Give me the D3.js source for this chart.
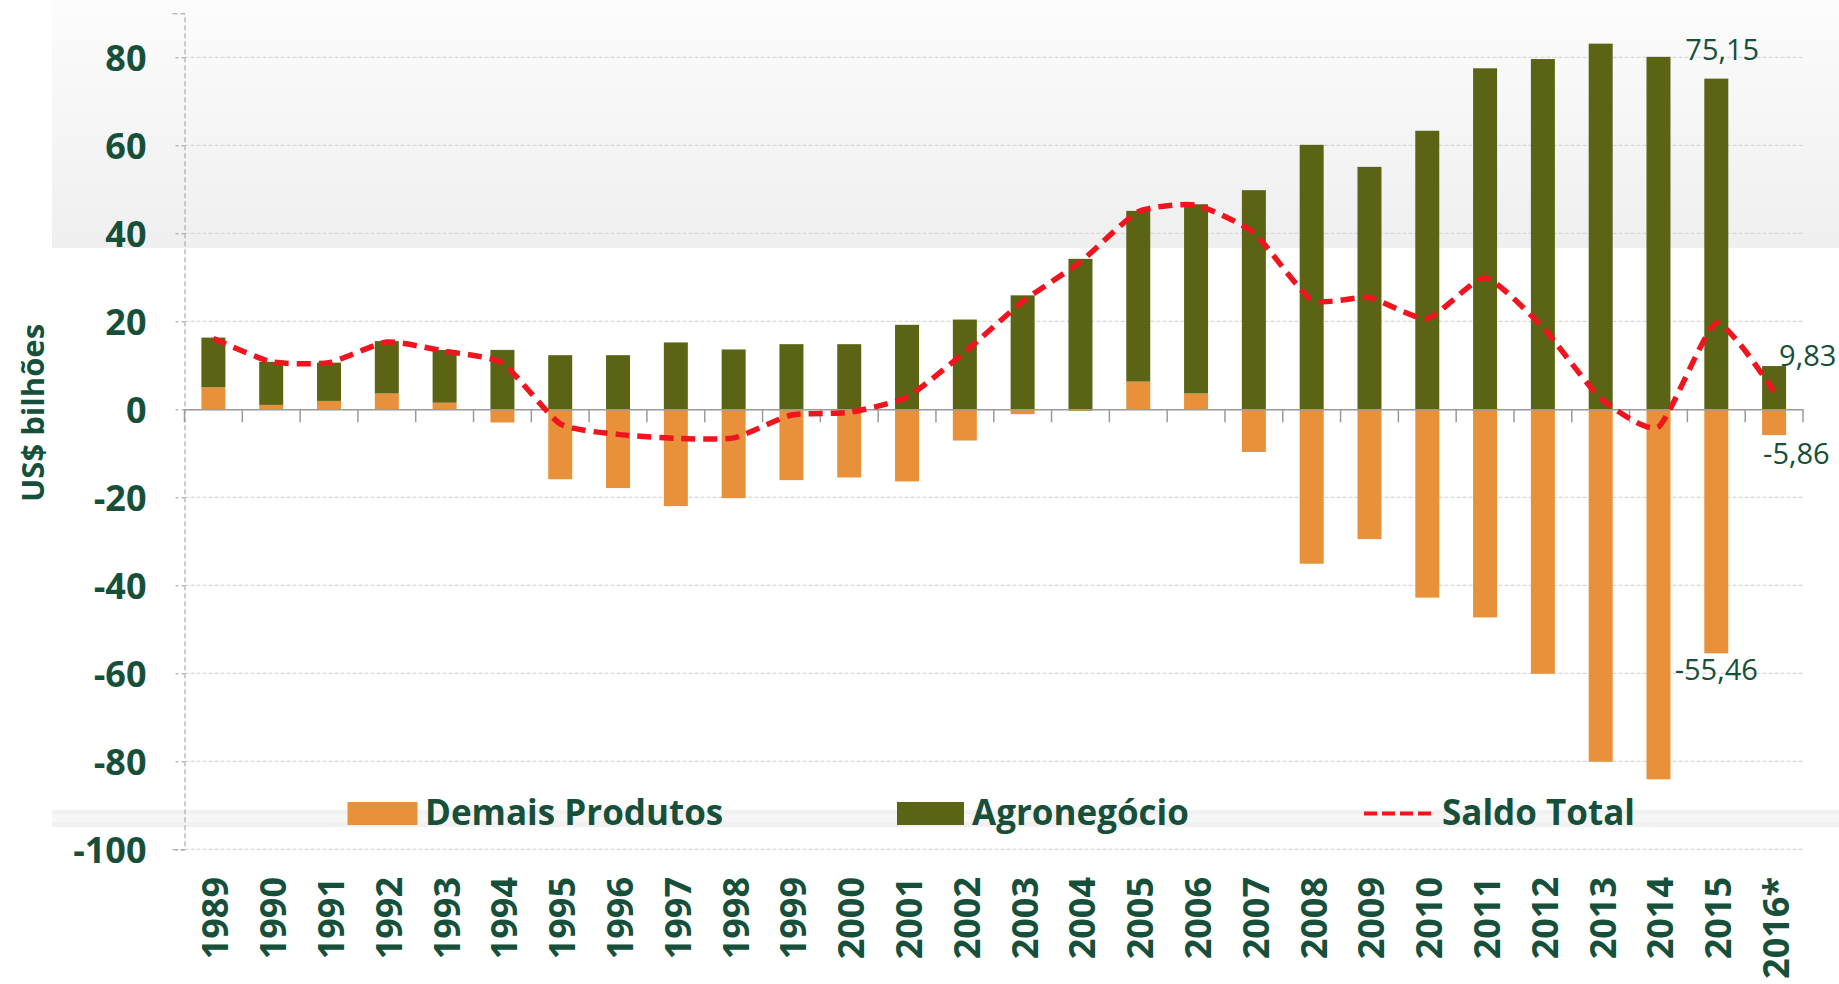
<!DOCTYPE html>
<html>
<head>
<meta charset="utf-8">
<script src="https://cdn.jsdelivr.net/npm/d3@7"></script>
<style>
  html, body { margin: 0; padding: 0; background: #ffffff; }
  svg { display: block; }
  text { font-family: "Open Sans", "DejaVu Sans", sans-serif; }
</style>
</head>
<body>
<svg id="chart" width="1839" height="984"></svg>
<script>
// ---- data (US$ bilhões) ----
const years = ["1989","1990","1991","1992","1993","1994","1995","1996","1997","1998","1999","2000","2001","2002","2003","2004","2005","2006","2007","2008","2009","2010","2011","2012","2013","2014","2015","2016*"];
const agronegocio = [11.3, 9.8, 8.7, 11.9, 12.0, 13.5, 12.3, 12.3, 15.2, 13.6, 14.8, 14.8, 19.2, 20.4, 25.9, 34.2, 38.8, 43.0, 49.8, 60.1, 55.1, 63.3, 77.5, 79.6, 83.1, 80.1, 75.15, 9.83];
const demaisProdutos = [5.0, 1.0, 1.9, 3.6, 1.5, -3.0, -15.9, -17.9, -22.0, -20.2, -16.1, -15.5, -16.4, -7.1, -1.1, -0.4, 6.3, 3.6, -9.7, -35.1, -29.5, -42.8, -47.3, -60.1, -80.1, -84.1, -55.46, -5.86];
const saldoTotal = [16.1, 10.8, 10.6, 15.3, 13.2, 10.5, -3.3, -5.7, -6.6, -6.5, -1.3, -0.7, 2.8, 13.0, 24.5, 33.5, 44.9, 46.4, 40.1, 24.9, 25.4, 20.6, 29.9, 18.6, 2.5, -4.0, 19.6, 4.0];
const yTicks = [-100, -80, -60, -40, -20, 0, 20, 40, 60, 80];
const yTickLabels = ["-100", "-80", "-60", "-40", "-20", "0", "20", "40", "60", "80"];
const seriesNames = ["Demais Produtos", "Agronegócio", "Saldo Total"];
const annotations = [
  { year: "2015", value: 75.15, text: "75,15", dx: 6, dy: -19, anchor: "middle" },
  { year: "2015", value: -55.46, text: "-55,46", dx: 0, dy: 27, anchor: "middle" },
  { year: "2016*", value: 9.83, text: "9,83", dx: 5, dy: 0, anchor: "start" },
  { year: "2016*", value: -5.86, text: "-5,86", dx: -11, dy: 29, anchor: "start" }
];

// ---- styles ----
const C_GREEN = "#5a6414";
const C_ORANGE = "#e8913a";
const C_RED = "#f0141e";
const C_TEXT = "#16503a";
const C_GRID = "#d8d8d8";

const svg = d3.select("#chart");
const W = 1839, H = 984;

// background decorations
const defs = svg.append("defs");
const grad = defs.append("linearGradient").attr("id", "topband").attr("x1", 0).attr("y1", 0).attr("x2", 0).attr("y2", 1);
grad.append("stop").attr("offset", "0%").attr("stop-color", "#fcfcfc");
grad.append("stop").attr("offset", "100%").attr("stop-color", "#efefef");
svg.append("rect").attr("x", 52).attr("y", 0).attr("width", W - 52).attr("height", 248).attr("fill", "url(#topband)");
svg.append("rect").attr("x", 52).attr("y", 810).attr("width", W - 52).attr("height", 17).attr("fill", "#f1f1f1");
svg.append("rect").attr("x", 52).attr("y", 814).attr("width", W - 52).attr("height", 8).attr("fill", "#f6f6f6");

// scales
const x = d3.scaleBand().domain(years).range([184.5, 1803]).paddingInner(0.585).paddingOuter(0.2925);
const xStep = d3.scaleBand().domain(years).range([184.5, 1803]).padding(0);
const y = d3.scaleLinear().domain([-100, 90]).range([849.3, 13.3]);

// gridlines
svg.append("g").selectAll("line").data(yTicks.filter(d => d !== 0)).join("line")
  .attr("x1", 184.5).attr("x2", 1803)
  .attr("y1", d => y(d)).attr("y2", d => y(d))
  .attr("stroke", C_GRID).attr("stroke-width", 1.2).attr("stroke-dasharray", "4,2");

// y axis
const yAxis = d3.axisLeft(y).tickValues(yTicks).tickSize(12).tickPadding(26)
  .tickFormat((d, i) => yTickLabels[i]);
const gy = svg.append("g").attr("transform", "translate(184.5,0)").call(yAxis);
gy.select(".domain").attr("stroke", "#9a9a9a").attr("stroke-width", 1).attr("stroke-dasharray", "5,3");
gy.selectAll(".tick line").attr("stroke", "#9a9a9a").attr("stroke-dasharray", "3,3");
gy.selectAll(".tick text").attr("fill", C_TEXT).attr("font-size", 36).attr("font-weight", 700)
  .attr("font-family", "'Open Sans', sans-serif").attr("dy", "0.36em");

// bars
const gBars = svg.append("g");
years.forEach((yr, i) => {
  const d = demaisProdutos[i], a = agronegocio[i];
  const base = d > 0 ? d : 0;
  gBars.append("rect").attr("x", x(yr)).attr("width", x.bandwidth())
    .attr("y", y(Math.max(0, d))).attr("height", Math.abs(y(d) - y(0)))
    .attr("fill", C_ORANGE);
  gBars.append("rect").attr("x", x(yr)).attr("width", x.bandwidth())
    .attr("y", y(base + a)).attr("height", y(base) - y(base + a))
    .attr("fill", C_GREEN);
});

// x axis (zero line)
const xAxis = d3.axisBottom(xStep).tickSize(0).tickFormat("");
const gx = svg.append("g").attr("transform", `translate(0,${y(0)})`).call(xAxis);
gx.select(".domain").attr("stroke", "#9a9a9a").attr("stroke-width", 1.5);
gx.selectAll(".tick").remove();
const boundaries = years.map(yr => xStep(yr)).concat([xStep.range()[1]]);
gx.selectAll("line.bt").data(boundaries).join("line").attr("class", "bt")
  .attr("x1", d => d).attr("x2", d => d).attr("y1", 0).attr("y2", 13)
  .attr("stroke", "#9a9a9a").attr("stroke-width", 1.5);

// x labels (rotated)
svg.append("g").selectAll("text").data(years).join("text")
  .attr("transform", d => `translate(${x(d) + x.bandwidth() / 2 + 2},877) rotate(-90)`)
  .attr("text-anchor", "end").attr("dy", "0.36em")
  .attr("fill", C_TEXT).attr("font-size", 36).attr("font-weight", 700)
  .text(d => d);

// saldo line
const line = d3.line()
  .x((d, i) => x(years[i]) + x.bandwidth() / 2)
  .y(d => y(d))
  .curve(d3.curveCardinal.tension(0.45));
svg.append("path").datum(saldoTotal).attr("d", line)
  .attr("fill", "none").attr("stroke", C_RED).attr("stroke-width", 5.5)
  .attr("stroke-dasharray", "14,8").attr("stroke-linecap", "butt");

// annotations
svg.append("g").selectAll("text").data(annotations).join("text")
  .attr("x", d => x(d.year) + x.bandwidth() / 2 + d.dx)
  .attr("y", d => y(d.value) + d.dy)
  .attr("text-anchor", d => d.anchor)
  .attr("fill", C_TEXT).attr("font-size", 29).attr("font-weight", 400)
  .text(d => d.text);

// y axis title
svg.append("text")
  .attr("transform", "translate(33,413) rotate(-90)")
  .attr("text-anchor", "middle").attr("dy", "0.36em")
  .attr("fill", C_TEXT).attr("font-size", 31).attr("font-weight", 700)
  .text("US$ bilhões");

// legend
const lg = svg.append("g");
lg.append("rect").attr("x", 347.5).attr("y", 802).attr("width", 70).attr("height", 23).attr("fill", C_ORANGE);
lg.append("text").attr("x", 425).attr("y", 825).attr("fill", C_TEXT).attr("font-size", 35).attr("font-weight", 700).text(seriesNames[0]);
lg.append("rect").attr("x", 897).attr("y", 802).attr("width", 67).attr("height", 23).attr("fill", C_GREEN);
lg.append("text").attr("x", 972).attr("y", 825).attr("fill", C_TEXT).attr("font-size", 35).attr("font-weight", 700).text(seriesNames[1]);
lg.append("line").attr("x1", 1364).attr("x2", 1434).attr("y1", 813.5).attr("y2", 813.5)
  .attr("stroke", C_RED).attr("stroke-width", 4).attr("stroke-dasharray", "13,5");
lg.append("text").attr("x", 1442).attr("y", 825).attr("fill", C_TEXT).attr("font-size", 35).attr("font-weight", 700).text(seriesNames[2]);
</script>
</body>
</html>
